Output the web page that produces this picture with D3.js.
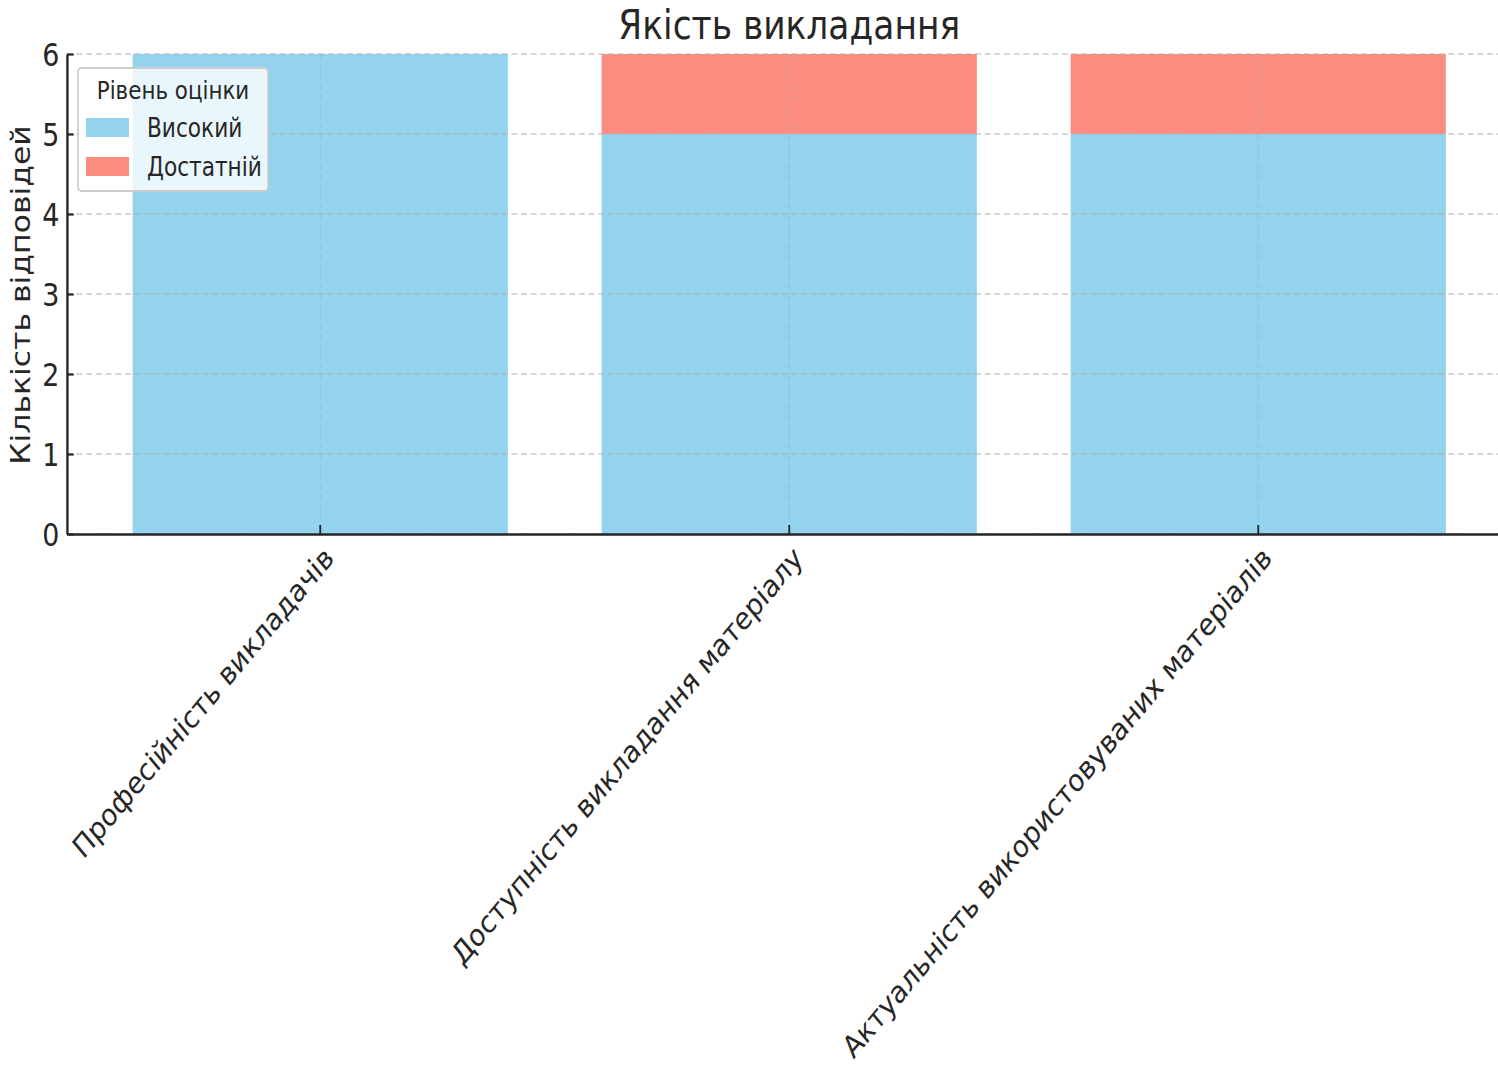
<!DOCTYPE html>
<html>
<head>
<meta charset="utf-8">
<script src="https://cdn.jsdelivr.net/npm/d3@7"></script>
<style>
  body { margin: 0; background: #fff; }
  text { font-family: "DejaVu Sans", sans-serif; fill: #262626; }
</style>
</head>
<body>
<script>
// chart data
const categories = ["Професійність викладачів", "Доступність викладання матеріалу", "Актуальність використовуваних матеріалів"];
const seriesNames = ["Високий", "Достатній"];
const highValues = [6, 5, 5];
const enoughValues = [0, 1, 1];
const yTicks = [0, 1, 2, 3, 4, 5, 6];
const colors = ["skyblue", "salmon"];

const width = 1498, height = 1066;
const sx = 0.84; // the original picture is squeezed horizontally
const W = width / sx;
const margin = {left: 67 / sx, right: 1511.5 / sx, top: 54, bottom: 534};

const svg = d3.select("body").append("svg")
    .attr("width", width)
    .attr("height", height);

const root = svg.append("g").attr("transform", `scale(${sx},1)`);

// build stacked table
const table = categories.map((c, i) => ({cat: c, "Високий": highValues[i], "Достатній": enoughValues[i]}));
const stacked = d3.stack().keys(seriesNames)(table);

const x = d3.scaleBand()
    .domain(categories)
    .range([margin.left, margin.right])
    .paddingInner(0.2)
    .paddingOuter(0.14);

const y = d3.scaleLinear()
    .domain([0, 6])
    .range([margin.bottom, margin.top]);

// bars
root.selectAll(".layer")
    .data(stacked)
    .enter().append("g")
    .attr("fill", (d, i) => colors[i])
    .attr("fill-opacity", 0.9)
    .selectAll("rect")
    .data(d => d)
    .enter().append("rect")
    .attr("x", d => x(d.data.cat))
    .attr("y", d => y(d[1]))
    .attr("width", x.bandwidth())
    .attr("height", d => y(d[0]) - y(d[1]));

// grid on top of bars
const grid = root.append("g")
    .attr("stroke", "#b0b0b0")
    .attr("stroke-opacity", 0.7)
    .attr("stroke-width", 1.3);
grid.selectAll(".hg")
    .data(yTicks)
    .enter().append("line")
    .attr("stroke-dasharray", "7,4.5")
    .attr("x1", margin.left).attr("x2", W)
    .attr("y1", d => y(d)).attr("y2", d => y(d));
grid.selectAll(".vg")
    .data(categories)
    .enter().append("line")
    .attr("stroke-dasharray", "6,4")
    .attr("x1", d => x(d) + x.bandwidth() / 2).attr("x2", d => x(d) + x.bandwidth() / 2)
    .attr("y1", margin.top).attr("y2", margin.bottom);

// y axis
const yAxis = root.append("g")
    .attr("transform", `translate(${margin.left},0)`)
    .call(d3.axisLeft(y).tickValues(yTicks).tickFormat(d3.format("d")).tickSizeInner(-8).tickSizeOuter(0).tickPadding(9));
yAxis.select(".domain").attr("stroke", "#262626").attr("stroke-width", 2.8);
yAxis.selectAll(".tick line").attr("stroke", "#262626").attr("stroke-width", 2.2);
yAxis.selectAll(".tick text").attr("font-size", 32).attr("dy", "0.36em");

// x axis
const xAxis = root.append("g")
    .attr("transform", `translate(0,${margin.bottom})`)
    .call(d3.axisBottom(x).tickSizeInner(-9).tickSizeOuter(0));
xAxis.select(".domain").attr("stroke", "#262626").attr("stroke-width", 2.5);
xAxis.selectAll(".tick line").attr("stroke", "#262626").attr("stroke-width", 2.2);
xAxis.selectAll(".tick text")
    .attr("font-size", 30.8)
    .attr("text-anchor", "end")
    .attr("y", 0)
    .attr("dy", 0)
    .attr("transform", "translate(18,26) rotate(-45)");

// title
root.append("text")
    .attr("x", (margin.left + margin.right) / 2)
    .attr("y", 39)
    .attr("text-anchor", "middle")
    .attr("font-size", 41)
    .text("Якість викладання");

// y label
root.append("text")
    .attr("transform", `translate(36,295) rotate(-90)`)
    .attr("text-anchor", "middle")
    .attr("font-size", 31.5)
    .text("Кількість відповідей");

// legend
const lg = root.append("g");
lg.append("rect")
    .attr("x", 78 / sx).attr("y", 68).attr("width", 190 / sx).attr("height", 123)
    .attr("rx", 4)
    .attr("fill", "#fff").attr("fill-opacity", 0.8)
    .attr("stroke", "#cccccc").attr("stroke-width", 2);
lg.append("text")
    .attr("x", 173 / sx).attr("y", 99)
    .attr("text-anchor", "middle")
    .attr("font-size", 25.5)
    .text("Рівень оцінки");
seriesNames.forEach((s, i) => {
    lg.append("rect")
        .attr("x", 86 / sx).attr("y", 118 + i * 39)
        .attr("width", 43 / sx).attr("height", 19)
        .attr("fill", colors[i]).attr("fill-opacity", 0.9);
    lg.append("text")
        .attr("x", 147 / sx).attr("y", 137 + i * 39)
        .attr("font-size", 25.8)
        .text(s);
});
</script>
</body>
</html>
